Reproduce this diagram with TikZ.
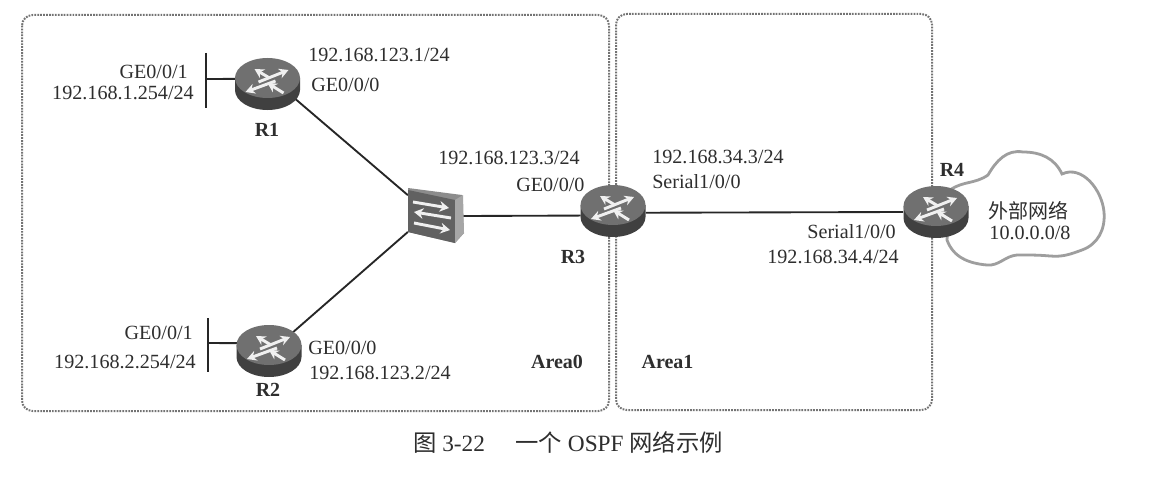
\documentclass[tikz,border=0pt]{standalone}
\usepackage{fontspec}
\setmainfont{Liberation Serif}
\newfontfamily\cjk{Noto Sans CJK SC}
\usetikzlibrary{shapes.geometric,arrows.meta}
\tikzset{
  lab/.style={inner sep=0pt,font=\fontsize{15.1}{17}\selectfont,text=black!82},
  labl/.style={lab,anchor=west},
  labr/.style={lab,anchor=east},
  blab/.style={lab,font=\fontsize{15}{17}\selectfont\bfseries},
  routernode/.style={ellipse,minimum width=49pt,minimum height=39pt,inner sep=0pt},
  switchnode/.style={rectangle,minimum width=41pt,minimum height=40pt,inner sep=0pt},
  link/.style={line width=1.4pt,black!85},
  bar/.style={line width=1.6pt,black!85},
  areabox/.style={line width=1.5pt,black!55,dash pattern=on 1.3pt off 0.9pt,rounded corners=8pt},
  wa/.style={black!6,line width=2.2pt,-{Stealth[length=7pt,width=7.5pt]}},
  swa/.style={black!6,line width=2.2pt,-{Stealth[length=7pt,width=8pt]}},
  cloudline/.style={line width=2.1pt,black!38,fill=white},
}
\newcommand{\routerdraw}[1]{%
  \begin{scope}[shift={(#1.center)}]
    \fill[black!75] (-32.5,-6) -- (-32.5,6) arc[start angle=180,end angle=0,x radius=32.5,y radius=20] -- (32.5,-6) -- cycle;
    \fill[black!56] (0,-6) ellipse[x radius=32.5,y radius=20];
    \draw[wa] (-9,-2) -- (21,-14);
    \draw[wa] (8,-3) -- (-22,8);
    \draw[wa] (2,-6) -- (-13,-15);
    \draw[wa] (16,9) -- (0,-1);
  \end{scope}}
\begin{document}
\begin{tikzpicture}[x=0.75pt,y=-0.75pt]
\useasboundingbox (0,0) rectangle (1163,478);
\fill[white] (0,0) rectangle (1163,478);
% area boxes
\draw[areabox] (22,15) rectangle (609,411);
\draw[areabox] (616,14) rectangle (932,410);
% cloud
\draw[cloudline] (950,190) to[out=35,in=215] (988,175) to[out=60,in=170] (1023,152) to[out=0,in=115] (1062,174)
  to[out=25,in=95] (1104,212) to[out=-85,in=20] (1082,250) to[out=200,in=-5] (1050,256)
  to[out=175,in=0] (1017,255) to[out=185,in=-5] (987,265) to[out=175,in=-70] (947,240) -- cycle;
% nodes
\node[routernode] (r1) at (267.5,84) {};
\node[routernode] (r2) at (269,351) {};
\node[routernode] (r3) at (613,211) {};
\node[routernode] (r4) at (936,212) {};
\node[switchnode] (sw) at (435.5,216) {};
\coordinate (b1t) at (206,53);
\coordinate (b1b) at (206,108);
\coordinate (b2t) at (208,318);
\coordinate (b2b) at (208,372);
\coordinate (b1m) at (206,79);
\coordinate (b2m) at (208,343);
% connectors
\draw[link] (r1.-28) -- (sw.143);
\draw[link] (r2.38) -- (sw.210);
\draw[link] (sw.east) -- (r3.188);
\draw[link] (r3.-3) -- (r4.west);
\draw[bar] (b1t) -- (b1b);
\draw[bar] (b2t) -- (b2b);
\draw[link] (b1m) -- (r1.171);
\draw[link] (b2m) -- (r2.166);
% routers
\routerdraw{r1}\routerdraw{r2}\routerdraw{r3}\routerdraw{r4}
% switch
\fill[black!45] (408,188) -- (462,195) -- (464,233) -- (455,243) -- (408,232) -- cycle;
\fill[black!62] (408,190) -- (455,200) -- (455,243) -- (408,232) -- cycle;
\fill[black!35] (455,200) -- (463,195) -- (464,233) -- (455,243) -- cycle;
\draw[swa] (413,202) -- (449,208);
\draw[swa] (451,218) -- (414,212);
\draw[swa] (414,223) -- (450,230);
% labels
\node[labr] (t1) at (188,72) {GE0/0/1};
\node[labr] (t2) at (194,93) {192.168.1.254/24};
\node[labl] (t3) at (308,55) {192.168.123.1/24};
\node[labl] (t4) at (311,85) {GE0/0/0};
\node[blab] (t5) at (267,130) {R1};
\node[labl] (t6) at (438,158) {192.168.123.3/24};
\node[labl] (t7) at (516,185) {GE0/0/0};
\node[labl] (t8) at (652,157) {192.168.34.3/24};
\node[labl] (t9) at (652,182) {Serial1/0/0};
\node[blab] (t10) at (573,257) {R3};
\node[blab] (t11) at (952,170) {R4};
\node[labr] (t12) at (896,232) {Serial1/0/0};
\node[labr] (t13) at (899,257) {192.168.34.4/24};
\node[lab,font=\fontsize{15}{17}\selectfont\cjk] (t14) at (1028,211) {外部网络};
\node[lab] (t15) at (1030,233) {10.0.0.0/8};
\node[labr] (t16) at (193,333) {GE0/0/1};
\node[labr] (t17) at (196,362) {192.168.2.254/24};
\node[labl] (t18) at (308,348) {GE0/0/0};
\node[labl] (t19) at (309,373) {192.168.123.2/24};
\node[blab] (t20) at (268,390) {R2};
\node[blab] (t21) at (557,362) {Area0};
\node[blab] (t22) at (667.5,362) {Area1};
\node[lab,font=\fontsize{17.5}{19}\selectfont] (t23) at (568,442) {{\cjk 图} 3-22\hspace{1.3em}{\cjk 一个} OSPF {\cjk 网络示例}};
\end{tikzpicture}
\end{document}
